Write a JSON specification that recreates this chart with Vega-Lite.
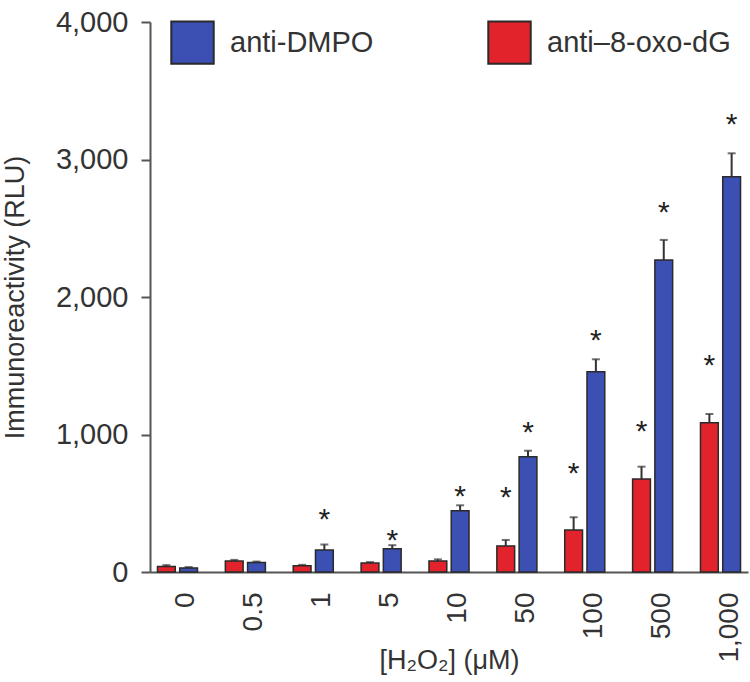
{
  "$schema": "https://vega.github.io/schema/vega-lite/v6.json",
  "autosize": "none",
  "padding": {"left": 150, "top": 22, "right": 2, "bottom": 110},
  "width": 598,
  "height": 550,
  "background": "white",
  "config": {
    "view": {"stroke": null},
    "font": "Liberation Sans",
    "axis": {"labelFont": "Liberation Sans", "titleFont": "Liberation Sans", "labelColor": "#333", "titleColor": "#333", "titleFontWeight": "normal"},
    "legend": {"labelFont": "Liberation Sans"}
  },
  "data": {
    "values": [
      {"conc": "0", "antibody": "anti–8-oxo-dG", "value": 40, "err": 50, "star": null},
      {"conc": "0.5", "antibody": "anti–8-oxo-dG", "value": 80, "err": 88, "star": null},
      {"conc": "1", "antibody": "anti–8-oxo-dG", "value": 45, "err": 52, "star": null},
      {"conc": "5", "antibody": "anti–8-oxo-dG", "value": 65, "err": 72, "star": null},
      {"conc": "10", "antibody": "anti–8-oxo-dG", "value": 80, "err": 92, "star": null},
      {"conc": "50", "antibody": "anti–8-oxo-dG", "value": 190, "err": 233, "star": 596},
      {"conc": "100", "antibody": "anti–8-oxo-dG", "value": 305, "err": 398, "star": 771},
      {"conc": "500", "antibody": "anti–8-oxo-dG", "value": 676, "err": 766, "star": 1076},
      {"conc": "1,000", "antibody": "anti–8-oxo-dG", "value": 1086, "err": 1149, "star": 1556},
      {"conc": "0", "antibody": "anti-DMPO", "value": 30, "err": 36, "star": null},
      {"conc": "0.5", "antibody": "anti-DMPO", "value": 70, "err": 76, "star": null},
      {"conc": "1", "antibody": "anti-DMPO", "value": 160, "err": 200, "star": 439},
      {"conc": "5", "antibody": "anti-DMPO", "value": 170, "err": 195, "star": 284},
      {"conc": "10", "antibody": "anti-DMPO", "value": 445, "err": 485, "star": 604},
      {"conc": "50", "antibody": "anti-DMPO", "value": 839, "err": 882, "star": 1069},
      {"conc": "100", "antibody": "anti-DMPO", "value": 1457, "err": 1547, "star": 1738},
      {"conc": "500", "antibody": "anti-DMPO", "value": 2269, "err": 2415, "star": 2669},
      {"conc": "1,000", "antibody": "anti-DMPO", "value": 2875, "err": 3045, "star": 3309}
    ]
  },
  "encoding": {
    "x": {
      "field": "conc", "type": "nominal",
      "sort": ["0", "0.5", "1", "5", "10", "50", "100", "500", "1,000"],
      "scale": {"paddingInner": 0.41, "paddingOuter": 0.11},
      "axis": {
        "title": "[H₂O₂] (μM)", "titleFontSize": 27, "titleBaseline": "middle", "titleY": 88,
        "labelAngle": 270, "labelAlign": "right", "labelBaseline": "middle",
        "labelFontSize": 28, "labelPadding": 20, "labelOffset": 9,
        "ticks": false, "domainColor": "#555", "domainWidth": 2
      }
    },
    "xOffset": {
      "field": "antibody", "type": "nominal",
      "sort": ["anti–8-oxo-dG", "anti-DMPO"],
      "scale": {"paddingInner": 0.2, "paddingOuter": 0}
    }
  },
  "layer": [
    {
      "mark": {"type": "rule", "color": "#333", "strokeWidth": 2},
      "encoding": {
        "y": {"field": "value", "type": "quantitative"},
        "y2": {"field": "err"}
      }
    },
    {
      "mark": {"type": "tick", "color": "#333", "thickness": 2, "size": 8},
      "encoding": {
        "y": {"field": "err", "type": "quantitative"}
      }
    },
    {
      "mark": {"type": "bar", "stroke": "#2a2a2a", "strokeWidth": 1.5, "opacity": 1},
      "encoding": {
        "y": {
          "field": "value", "type": "quantitative",
          "scale": {"domain": [0, 4000], "nice": false},
          "axis": {
            "title": "Immunoreactivity (RLU)", "titleFontSize": 27, "titleBaseline": "middle", "titleX": -135,
            "values": [0, 1000, 2000, 3000, 4000], "format": ",.0f", "labelFontSize": 29, "labelPadding": 13,
            "tickSize": 9, "tickColor": "#555", "tickWidth": 2, "domainColor": "#555", "domainWidth": 2,
            "grid": false
          }
        },
        "color": {
          "field": "antibody", "type": "nominal",
          "scale": {"domain": ["anti-DMPO", "anti–8-oxo-dG"], "range": ["#3c4fb3", "#e2232b"]},
          "legend": {
            "title": null, "orient": "none", "direction": "horizontal",
            "legendX": 20, "legendY": -2, "padding": 0,
            "symbolType": "square", "symbolSize": 1800, "symbolStrokeColor": "#2a2a2a", "symbolStrokeWidth": 2,
            "symbolOpacity": 1, "labelFontSize": 29, "labelColor": "#333", "labelOffset": 15, "labelLimit": 400,
            "columnPadding": 110
          }
        }
      }
    },
    {
      "transform": [{"filter": "datum.star != null"}],
      "mark": {"type": "text", "text": "*", "fontSize": 30, "color": "#222", "baseline": "alphabetic", "dy": 17},
      "encoding": {
        "y": {"field": "star", "type": "quantitative"}
      }
    }
  ]
}
